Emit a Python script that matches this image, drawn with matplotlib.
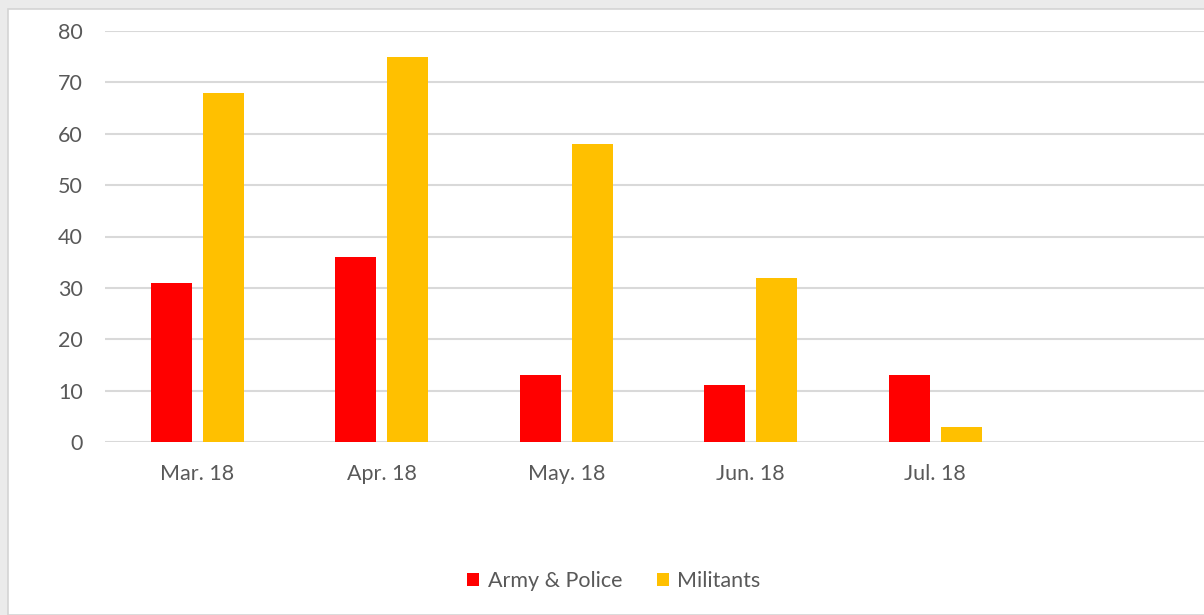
import matplotlib
matplotlib.use("Agg")
import matplotlib.pyplot as plt
from matplotlib.patches import Rectangle, Patch
import numpy as np

# data
months = ["Mar. 18", "Apr. 18", "May. 18", "Jun. 18", "Jul. 18", ""]
army_police = [31, 36, 13, 11, 13]
militants = [68, 75, 58, 32, 3]
y_ticks = [0, 10, 20, 30, 40, 50, 60, 70, 80]

RED = "#ff0000"
GOLD = "#ffc000"
TEXT = "#595959"
GRID = "#d9d9d9"

plt.rcParams['font.family'] = ['Lato', 'DejaVu Sans']

W, H = 1204, 615
fig = plt.figure(figsize=(W / 100, H / 100), dpi=100)
fig.patch.set_facecolor("#ebebeb")

# white chart area with a thin border, like the spreadsheet frame
fig.patches.append(Rectangle((8 / W, 0), 1 - 8 / W + 0.01, (H - 9) / H,
                             transform=fig.transFigure, facecolor="white",
                             edgecolor="#d4d4d4", linewidth=1.2, zorder=-10))

# axes: left at x=105, right past the edge, y=0 at 442, y=80 at 31
left, right = 105 / W, 1212 / W
bottom, top = (H - 442) / H, (H - 31) / H
ax = fig.add_axes([left, bottom, right - left, top - bottom])
ax.set_facecolor("none")

x = np.arange(len(army_police))
width = 0.222
ax.bar(x - 0.142, army_police, width, color=RED, zorder=3)
ax.bar(x + 0.142, militants, width, color=GOLD, zorder=3)

ax.set_xlim(-0.5, len(months) - 0.5)
ax.set_ylim(0, 80)
ax.set_yticks(y_ticks)
ax.set_xticks(np.arange(len(months)))
ax.set_xticklabels(months)
ax.yaxis.grid(True, color=GRID, linewidth=1.5, zorder=0)
ax.set_axisbelow(True)

for s in ax.spines.values():
    s.set_visible(False)
ax.tick_params(axis="both", length=0, labelsize=15.5, labelcolor=TEXT)
ax.tick_params(axis="y", pad=16)
ax.tick_params(axis="x", pad=16)

handles = [Patch(facecolor=RED, label="Army & Police"),
           Patch(facecolor=GOLD, label="Militants")]
fig.legend(handles=handles, loc="center", bbox_to_anchor=(614 / W, 1 - 581 / H),
           ncol=2, frameon=False, fontsize=15.5, labelcolor=TEXT,
           handlelength=0.55, handleheight=0.55, handletextpad=0.4,
           columnspacing=1.6)

fig.savefig("out.png", dpi=100, facecolor=fig.get_facecolor())
